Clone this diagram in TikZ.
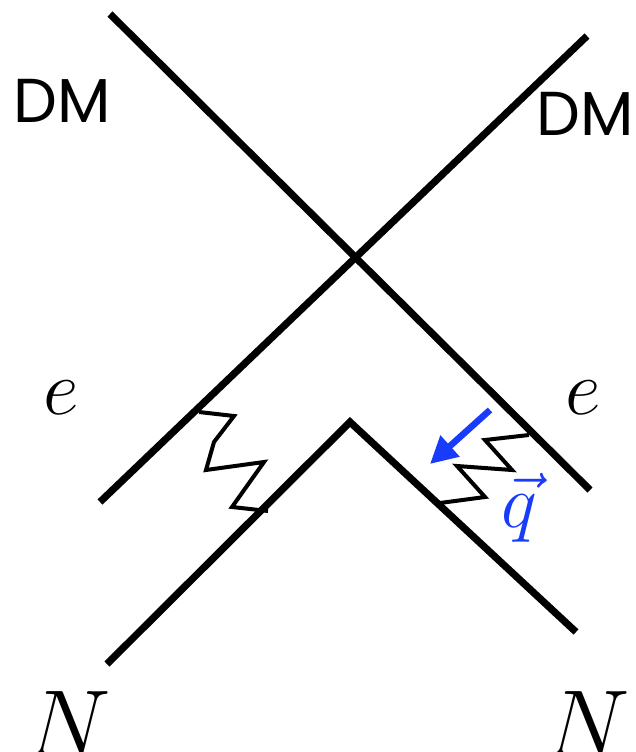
\RequirePackage{fix-cm}
\documentclass[tikz,border=0pt]{standalone}
\usepackage{fontspec}
\newfontfamily\dmfont{Poppins}
\usetikzlibrary{arrows.meta}
\definecolor{qblue}{RGB}{25,60,250}
\tikzset{
  particle/.style={line width=7.2pt, line join=miter},
  photon/.style={line width=4pt, line join=miter},
  lbl/.style={inner sep=0pt, anchor=base west},
}
\begin{document}
\begin{tikzpicture}[x=1pt,y=-1pt]
\useasboundingbox (0,0) rectangle (635,752);
% DM / e lines
\coordinate (dmtl) at (110,14);
\coordinate (etr) at (590,490);
\coordinate (dmtr) at (587,36);
\coordinate (etl) at (100,502);
\draw[particle] (dmtl) -- (etr);
\draw[particle] (dmtr) -- (etl);
% nucleus line
\coordinate (nbl) at (107,664);
\coordinate (napex) at (350,422);
\coordinate (nbr) at (576,632);
\draw[particle] (nbl) -- (napex) -- (nbr);
% left photon
\draw[photon] (199,412) -- (234,416) -- (214,442) -- (206,470) -- (264,462) -- (232,507) -- (268,511);
% right photon
\draw[photon] (440,503) -- (485,497) -- (457,466) -- (512,470) -- (485,440) -- (529,435);
% momentum arrow
\coordinate (qs) at (490,410);
\coordinate (qe) at (430,464);
\draw[qblue, line width=6.5pt, -{Triangle[length=27pt,width=27pt]}] (qs) -- (qe);
% labels
\node[lbl] (dml) at (13,122) {\dmfont\fontsize{62}{62}\selectfont DM};
\node[lbl] (dmr) at (536,135) {\dmfont\fontsize{62}{62}\selectfont DM};
\node[lbl] (el) at (43,414) {\fontsize{78}{78}\selectfont $e$};
\node[lbl] (er) at (565,414) {\fontsize{78}{78}\selectfont $e$};
\node[lbl] (nl) at (26,756) {\fontsize{95}{95}\selectfont $N$};
\node[lbl] (nr) at (545,756) {\fontsize{95}{95}\selectfont $N$};
\node[lbl, text=qblue] (q) at (501,527) {\fontsize{76}{76}\selectfont $\vec{q}$};
\end{tikzpicture}
\end{document}
